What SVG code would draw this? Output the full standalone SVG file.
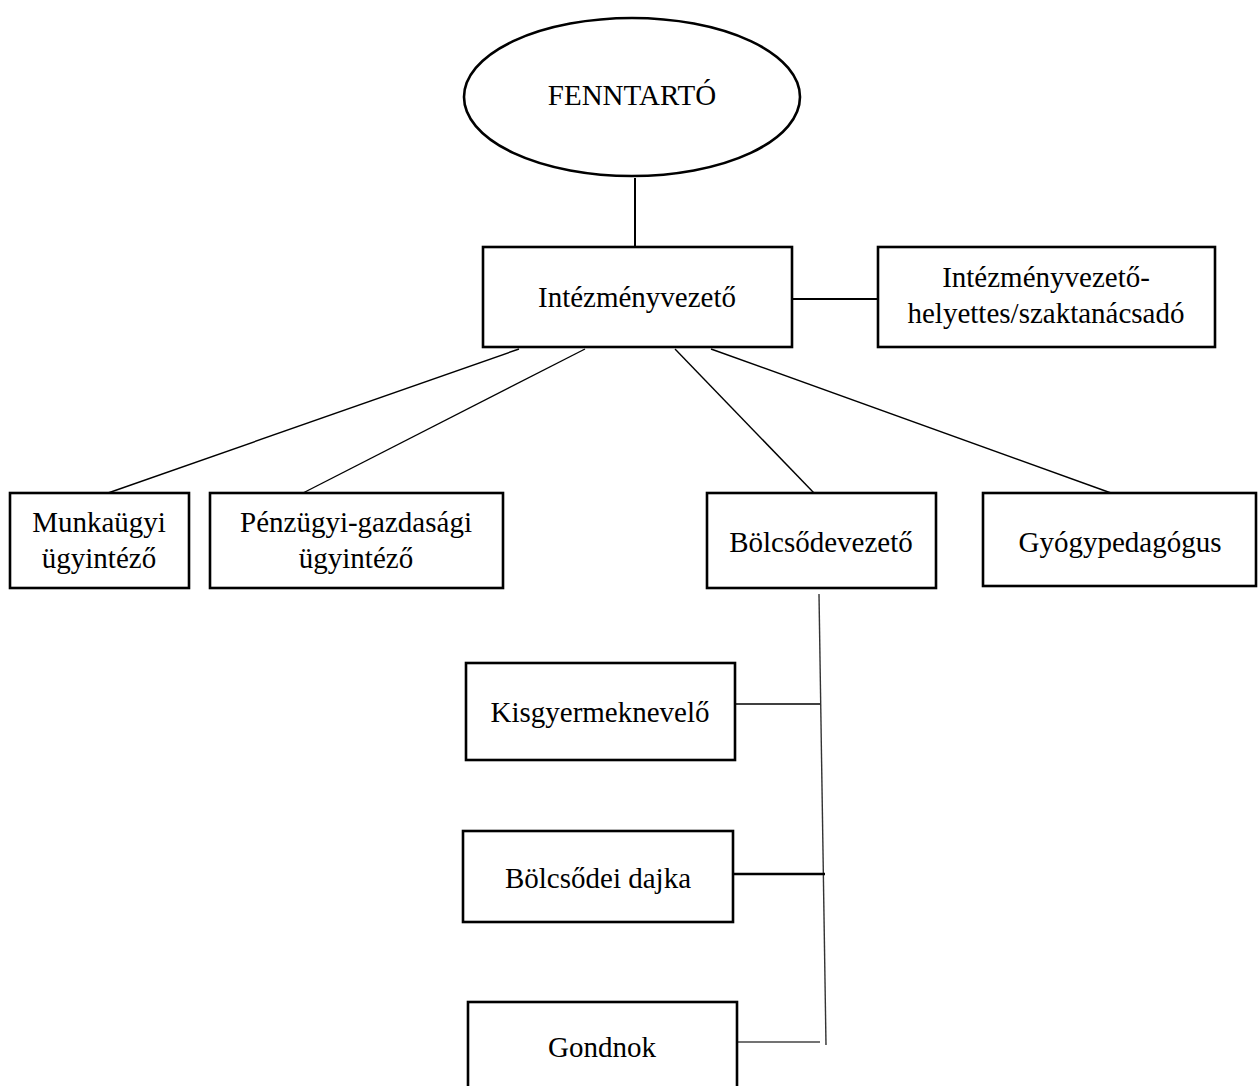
<svg xmlns="http://www.w3.org/2000/svg" width="1258" height="1086" viewBox="0 0 1258 1086">
<style>
.box{fill:#fff;stroke:#000;stroke-width:2.6}
.t{font-family:"Liberation Serif","Times New Roman",serif;font-size:29px;fill:#000;text-anchor:middle}
.c{stroke:#000;stroke-width:1.4;fill:none}
</style>
<rect width="1258" height="1086" fill="#fff"/>
<g id="connectors">
<line class="c" x1="635" y1="178" x2="635" y2="247" style="stroke-width:2"/>
<line class="c" x1="792" y1="299" x2="878" y2="299" style="stroke-width:2"/>
<line class="c" x1="519" y1="349" x2="108" y2="493"/>
<line class="c" x1="585" y1="349" x2="303" y2="493"/>
<line class="c" x1="675" y1="349" x2="814" y2="493"/>
<line class="c" x1="711" y1="349" x2="1111" y2="493"/>
<line class="c" x1="819" y1="594" x2="826" y2="1045" style="stroke:#333"/>
<line class="c" x1="735" y1="704" x2="820" y2="704"/>
<line class="c" x1="733" y1="874" x2="825" y2="874" style="stroke-width:2.4"/>
<line class="c" x1="737" y1="1042" x2="820" y2="1042" style="stroke:#444;stroke-width:1.6"/>
</g>
<g id="fenntarto">
<ellipse cx="632" cy="97" rx="168" ry="79" fill="#fff" stroke="#000" stroke-width="2.6"/>
<text class="t" x="632" y="105">FENNTARTÓ</text>
</g>
<g id="intezmenyvezeto">
<rect class="box" x="483" y="247" width="309" height="100"/>
<text class="t" x="637" y="307">Intézményvezető</text>
</g>
<g id="helyettes">
<rect class="box" x="878" y="247" width="337" height="100"/>
<text class="t" x="1046" y="287">Intézményvezető-</text>
<text class="t" x="1046" y="323">helyettes/szaktanácsadó</text>
</g>
<g id="munkaugyi">
<rect class="box" x="10" y="493" width="179" height="95"/>
<text class="t" x="99" y="532">Munkaügyi</text>
<text class="t" x="99" y="568">ügyintéző</text>
</g>
<g id="penzugyi">
<rect class="box" x="210" y="493" width="293" height="95"/>
<text class="t" x="356" y="532">Pénzügyi-gazdasági</text>
<text class="t" x="356" y="568">ügyintéző</text>
</g>
<g id="bolcsodevezeto">
<rect class="box" x="707" y="493" width="229" height="95"/>
<text class="t" x="821" y="552">Bölcsődevezető</text>
</g>
<g id="gyogypedagogus">
<rect class="box" x="983" y="493" width="273" height="93"/>
<text class="t" x="1120" y="552">Gyógypedagógus</text>
</g>
<g id="kisgyermeknevelo">
<rect class="box" x="466" y="663" width="269" height="97"/>
<text class="t" x="600" y="722">Kisgyermeknevelő</text>
</g>
<g id="dajka">
<rect class="box" x="463" y="831" width="270" height="91"/>
<text class="t" x="598" y="888">Bölcsődei dajka</text>
</g>
<g id="gondnok">
<rect class="box" x="468" y="1002" width="269" height="100"/>
<text class="t" x="602" y="1057">Gondnok</text>
</g>
</svg>
